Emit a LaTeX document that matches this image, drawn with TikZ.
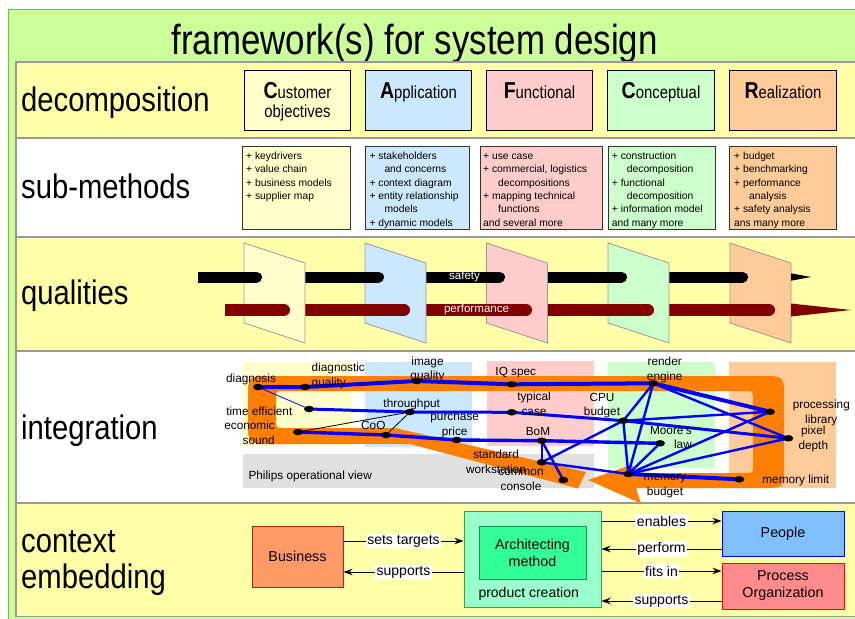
\documentclass[tikz,border=0pt]{standalone}
\usepackage{fontspec}
\setmainfont{Liberation Sans}
\newfontfamily\titlefont[FakeStretch=0.83]{Liberation Sans}
\newfontfamily\rowfont[FakeStretch=0.86]{Liberation Sans}
\newfontfamily\boxfont[FakeStretch=0.85]{Liberation Sans}
\usetikzlibrary{shapes.geometric,arrows.meta}
\definecolor{framegreen}{HTML}{CCFF99}
\definecolor{frameedge}{HTML}{66CC33}
\definecolor{rowyellow}{HTML}{FFFFAA}
\definecolor{rowedge}{HTML}{999999}
\definecolor{cyel}{HTML}{FFFFCC}
\definecolor{cblue}{HTML}{CCE8FF}
\definecolor{cpink}{HTML}{FFCCCC}
\definecolor{cgreen}{HTML}{CCFFCC}
\definecolor{corange}{HTML}{FFCC99}
\definecolor{bandorange}{HTML}{FF8000}
\definecolor{perfred}{HTML}{800000}
\definecolor{opgray}{HTML}{E0E0E0}
\definecolor{bizfill}{HTML}{FF9966}
\definecolor{bizedge}{HTML}{B22222}
\definecolor{pcfill}{HTML}{99FFCC}
\definecolor{pcedge}{HTML}{33AA33}
\definecolor{amfill}{HTML}{33FF99}
\definecolor{amedge}{HTML}{119944}
\definecolor{ppfill}{HTML}{80C0FF}
\definecolor{ppedge}{HTML}{0000FF}
\definecolor{poffill}{HTML}{FF8C8C}
\definecolor{pofedge}{HTML}{FF0000}
\newcommand\capL[1]{{\fontsize{23}{23}\selectfont\bfseries #1}}
\newcommand\ind{\hspace*{15pt}}
\tikzset{
  rowbox/.style={draw=rowedge, line width=1.2pt},
  decbox/.style={draw=black, line width=0.9pt, minimum width=106.5pt, minimum height=60pt, inner sep=0pt},
  subbox/.style={draw=black!80, line width=0.9pt, minimum height=82.6pt, inner sep=0pt},
  subtext/.style={anchor=north west, inner sep=0pt, align=left, font=\fontsize{10.3}{13.3}\selectfont},
  rowlab/.style={anchor=base west, inner sep=0pt, font=\rowfont\fontsize{34}{40}\selectfont},
  dectext/.style={anchor=base, inner sep=0pt, font=\boxfont\fontsize{17.5}{19}\selectfont},
  plane/.style={draw=rowedge, line width=0.8pt},
  qlab/.style={text=white, inner sep=0pt, font=\fontsize{11.6}{13}\selectfont},
  dot/.style={ellipse, fill=black, minimum width=10pt, minimum height=6.5pt, inner sep=0pt},
  lbl/.style={inner sep=0pt, font=\fontsize{11.8}{14.5}\selectfont},
  e4/.style={draw=blue, line width=4pt, line join=round},
  e35/.style={draw=blue, line width=3.4pt, line join=round},
  e3/.style={draw=blue, line width=3pt, line join=round},
  e2/.style={draw=blue, line width=2.4pt},
  cbox/.style={draw, line width=1pt, inner sep=0pt, font=\fontsize{14.3}{17}\selectfont, align=center},
  conn/.style={draw=black, line width=0.9pt, -{Stealth[length=9pt,width=6.5pt]}},
  clab/.style={fill=white, inner sep=1.5pt, font=\fontsize{14}{17}\selectfont},
}
\begin{document}
\begin{tikzpicture}[x=1pt,y=-1pt]
\useasboundingbox (0,0) rectangle (855,619);
\fill[white] (0,0) rectangle (855,619);
% frame
\draw[fill=framegreen, draw=frameedge, line width=1.5pt] (8.5,9.5) rectangle (880,640);
\node[anchor=base, inner sep=0pt, font=\titlefont\fontsize{42}{48}\selectfont] (title) at (414.5,54.3) {framework(s) for system design};
% rows
\draw[rowbox, fill=rowyellow] (16,62) rectangle (880,138);
\draw[rowbox, fill=white] (16,138) rectangle (880,237);
\draw[rowbox, fill=rowyellow] (16,237) rectangle (880,351);
\draw[rowbox, fill=white] (16,351) rectangle (880,503);
\draw[rowbox, fill=rowyellow] (16,503) rectangle (880,616.5);
\node[rowlab] (rDec) at (21,111) {decomposition};
\node[rowlab] (rSub) at (21,198) {sub-methods};
\node[rowlab] (rQua) at (21,304) {qualities};
\node[rowlab] (rInt) at (21,439) {integration};
\node[rowlab] (rCon) at (21,552) {context};
\node[rowlab] (rEmb) at (21,588) {embedding};
% decomposition
\node[decbox, fill=cyel] (dCust) at (297.5,100.7) {};
\node[decbox, fill=cblue] (dApp) at (418.5,100.7) {};
\node[decbox, fill=cpink] (dFun) at (539.5,100.7) {};
\node[decbox, fill=cgreen] (dCon) at (661,100.7) {};
\node[decbox, fill=corange] (dRea) at (783,100.7) {};
\node[dectext] (tCust) at (297.5,98) {\capL{C}ustomer};
\node[dectext] (tCust2) at (297.5,117) {objectives};
\node[dectext] (tApp) at (418.5,98) {\capL{A}pplication};
\node[dectext] (tFun) at (539.5,98) {\capL{F}unctional};
\node[dectext] (tCon) at (661,98) {\capL{C}onceptual};
\node[dectext] (tRea) at (783,98) {\capL{R}ealization};
% sub-methods
\node[subbox, fill=cyel, minimum width=107.7pt] (sCust) at (296.2,188) {};
\node[subbox, fill=cblue, minimum width=103.6pt] (sApp) at (417.5,188) {};
\node[subbox, fill=cpink, minimum width=122pt] (sFun) at (541.7,188) {};
\node[subbox, fill=cgreen, minimum width=106.7pt] (sCon) at (661.7,188) {};
\node[subbox, fill=corange, minimum width=107.4pt] (sRea) at (783,188) {};
\node[subtext] (xCust) at (246,150) {\strut+ keydrivers\\+ value chain\\+ business models\\+ supplier map};
\node[subtext] (xApp) at (369.3,150) {\strut+ stakeholders\\\ind and concerns\\+ context diagram\\+ entity relationship\\\ind models\\+ dynamic models};
\node[subtext] (xFun) at (483,150) {\strut+ use case\\+ commercial, logistics\\\ind decompositions\\+ mapping technical\\\ind functions\\and several more};
\node[subtext] (xCon) at (611.7,150) {\strut+ construction\\\ind decomposition\\+ functional\\\ind decomposition\\+ information model\\and many more};
\node[subtext] (xRea) at (734,150) {\strut+ budget\\+ benchmarking\\+ performance\\\ind analysis\\+ safety analysis\\ans many more};
% qualities
\draw[line width=11pt, black] (198,277) -- (791,277);
\draw[line width=12pt, perfred] (225,310) -- (791,310);
\foreach \xl/\col in {244/cyel, 365/cblue, 486.5/cpink, 608/cgreen, 730/corange}
  \draw[plane, fill=\col] (\xl,243) -- ({\xl+61},263) -- ({\xl+61},343) -- (\xl,323) -- cycle;
\foreach \a/\b in {244/262, 365/384, 486.5/505, 608/627, 730/748}
  \draw[line width=11pt, line cap=round] (\a,277) -- ({\b-5.5},277);
\foreach \a/\b in {244/290, 365/410, 486.5/532, 608/654, 730/775}
  \draw[line width=12pt, line cap=round, perfred] (\a,310) -- ({\b-6},310);
\fill[black] (791,273.3) -- (811,277) -- (791,280.7) -- cycle;
\fill[perfred] (791,303.5) -- (851,310) -- (791,316.5) -- cycle;
\node[qlab] (qSaf) at (464.5,277) {safety};
\node[qlab] (qPerf) at (476.6,310) {performance};
% integration backgrounds
\fill[cyel] (243,362) rectangle (352,446);
\fill[cblue] (365,362) rectangle (472,447);
\fill[cpink] (487,361) rectangle (594,446);
\fill[cgreen] (608,362) rectangle (715,468);
\fill[corange] (729,362) rectangle (836,488);
\fill[opgray] (243,454) rectangle (594,488);
\node[lbl, anchor=west] (Lphil) at (248.3,476) {Philips operational view};
% orange band
\fill[bandorange] (586,472) -- (395,428) -- (284,428) .. controls (276,428) .. (276,420)
  -- (276,399) .. controls (276,391) .. (284,391) -- (745,391) .. controls (753,391) .. (753,399)
  -- (753,465) .. controls (753,473) .. (745,473) -- (636,473) -- (632,464.5) -- (588,480)
  -- (641,503.5) -- (636,488) -- (762,488) .. controls (784,488) .. (784,466)
  -- (784,398) .. controls (784,376) .. (762,376) -- (270,376) .. controls (248,376) .. (248,398)
  -- (248,422) .. controls (248,444) .. (270,444) -- (410,444) -- (578,488.5) -- cycle;
% positions
\coordinate (diag) at (258,387);
\coordinate (dq) at (305,387);
\coordinate (te) at (309,409);
\coordinate (es) at (298,432);
\coordinate (coo) at (386,435);
\coordinate (tp) at (410,412);
\coordinate (iq) at (416.7,381);
\coordinate (pp) at (456.7,440);
\coordinate (iqs) at (511.7,384.3);
\coordinate (tc) at (511.7,412.3);
\coordinate (bom) at (541.7,440.7);
\coordinate (sw) at (541.7,462.3);
\coordinate (cc) at (563.3,480);
\coordinate (cpu) at (623.3,420.7);
\coordinate (re) at (653.3,383.3);
\coordinate (ml) at (660,443.3);
\coordinate (mb) at (628.3,474);
\coordinate (mlim) at (739.3,479.3);
\coordinate (pl) at (770,411.7);
\coordinate (pd) at (788.3,438.3);
% edges
\draw[e2] (bom) -- (sw);
\draw[e2] (bom) -- (cc);
\draw[e2] (sw) -- (cpu);
\draw[e2] (sw) -- (mb);
\draw[e2] (cpu) -- (mb);
\draw[e2] (re) -- (cpu);
\draw[e2] (re) -- (mb);
\draw[e2] (re) -- (pd);
\draw[e2] (cpu) -- (pl);
\draw[e2] (mb) -- (ml);
\draw[e2] (mb) -- (pl);
\draw[e2] (mb) -- (pd);
\draw[e4] (mb) -- (mlim);
\draw[e4] (diag) -- (dq) -- (iq) -- (iqs) -- (re) -- (pl);
\draw[e3] (te) -- (tp) -- (tc) -- (cpu) -- (pd);
\draw[e35] (es) -- (coo) -- (pp) -- (bom) -- (ml);
\draw[blue, line width=0.8pt] (diag) -- (te);
\draw[black, line width=0.8pt] (es) -- (tp);
\draw[black, line width=0.8pt] (coo) -- (tp);
% dots
\foreach \p in {diag,dq,te,es,coo,tp,iq,pp,iqs,tc,bom,sw,cc,cpu,re,ml,mb,mlim,pl,pd}
  \node[dot] (d\p) at (\p) {};
% labels
\node[lbl] (Ldiag) at (251,379) {diagnosis};
\node[lbl, anchor=west, align=left] (Ldq) at (311.5,376) {diagnostic\\quality};
\node[lbl] (Lte) at (259.3,411.7) {time efficient};
\node[lbl, anchor=east, align=right] (Les) at (275,432.7) {economic\\sound};
\node[lbl] (Lcoo) at (373.3,425) {CoO};
\node[lbl] (Ltp) at (411.7,404.2) {throughput};
\node[lbl, align=center] (Liq) at (427.5,369.5) {image\\quality};
\node[lbl, align=center] (Lpp) at (454.7,425) {purchase\\price};
\node[lbl, align=center] (Lsw) at (496,462) {standard\\workstation};
\node[lbl] (Liqs) at (515.8,372.7) {IQ spec};
\node[lbl, align=center] (Ltc) at (534,403.8) {typical\\case};
\node[lbl] (Lbom) at (538,431.7) {BoM};
\node[lbl, align=center] (Lcc) at (521,480) {common\\console};
\node[lbl, align=center] (Lcpu) at (602,405.5) {CPU\\budget};
\node[lbl, align=center] (Lre) at (664.7,369.7) {render\\engine};
\node[lbl, anchor=east, align=right] (Lml) at (692,437.7) {Moore's\\law};
\node[lbl, align=center] (Lmb) at (665,485.8) {memory\\budget};
\node[lbl] (Lmlim) at (795.8,480) {memory limit};
\node[lbl, align=center] (Lpl) at (821.3,412.7) {processing\\library};
\node[lbl, align=center] (Lpd) at (813.3,438.8) {pixel\\depth};
% context embedding
\node[cbox, fill=bizfill, draw=bizedge, minimum width=91pt, minimum height=61pt] (biz) at (297.5,556.5) {Business};
\node[cbox, fill=pcfill, draw=pcedge, minimum width=137pt, minimum height=96pt] (pc) at (532.5,559) {};
\node[cbox, fill=amfill, draw=amedge, minimum width=107pt, minimum height=53pt] (am) at (532.5,552.5) {Architecting\\method};
\node[inner sep=0pt, font=\fontsize{14}{17}\selectfont] (pcl) at (528.7,594) {product creation};
\node[cbox, fill=ppfill, draw=ppedge, minimum width=122pt, minimum height=45pt] (pp2) at (783,533.5) {People};
\node[cbox, fill=poffill, draw=pofedge, minimum width=122pt, minimum height=46pt] (pof) at (783,586) {Process\\Organization};
\draw[conn] (biz.east |- 0,541) -- node[clab] (lst) {sets targets} (pc.west |- 0,541);
\draw[conn] (pc.west |- 0,572) -- node[clab] (lsu) {supports} (biz.east |- 0,572);
\draw[conn] (pc.east |- 0,521) -- node[clab] (len) {enables} (pp2.west |- 0,521);
\draw[conn] (pp2.west |- 0,549) -- node[clab] (lpe) {perform} (pc.east |- 0,549);
\draw[conn] (pc.east |- 0,571) -- node[clab] (lfi) {fits in} (pof.west |- 0,571);
\draw[conn] (pof.west |- 0,601) -- node[clab] (lsu2) {supports} (pc.east |- 0,601);
\end{tikzpicture}
\end{document}
